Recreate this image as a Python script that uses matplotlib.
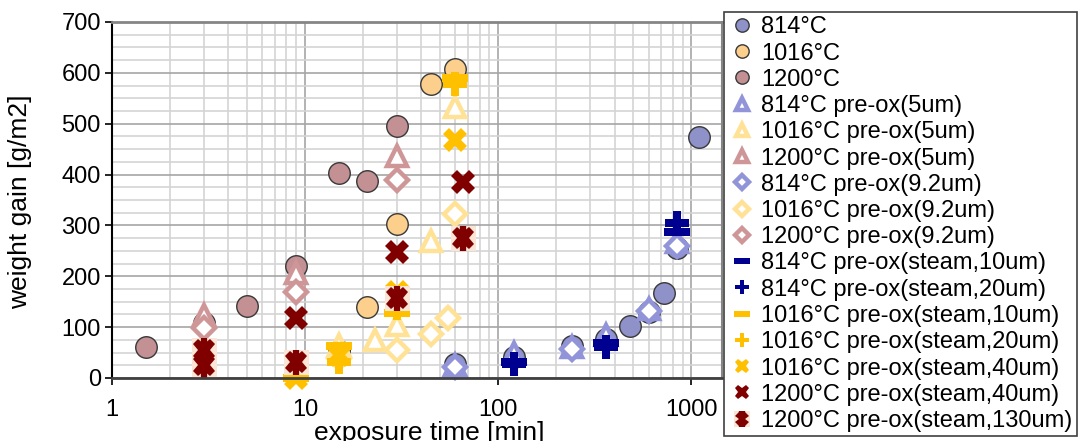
import matplotlib
matplotlib.use("Agg")
import matplotlib.pyplot as plt
from matplotlib.ticker import FixedLocator, NullFormatter, MultipleLocator, LogLocator
from matplotlib.legend_handler import HandlerTuple

plt.rcParams['font.family'] = ['Liberation Sans', 'DejaVu Sans']

# ---------------- data ----------------
t_814 = [60, 120, 240, 360, 480, 600, 720, 840, 1100]
w_814 = [28, 42, 62, 76, 102, 130, 168, 255, 474]

t_1016 = [15, 21, 30, 45, 60]
w_1016 = [53, 139, 303, 579, 608]

t_1200 = [1.5, 3, 5, 9, 15, 21, 30]
w_1200 = [60, 108, 141, 220, 404, 387, 495]

t_814_p5 = [60, 120, 240, 360, 600, 840]
w_814_p5 = [25, 49, 61, 85, 136, 268]

t_1016_p5 = [15, 23, 30, 45, 60]
w_1016_p5 = [65, 75, 104, 270, 533]

t_1200_p5 = [3, 9, 30]
w_1200_p5 = [124, 206, 436]

t_814_p92 = [60, 240, 600, 840]
w_814_p92 = [22, 58, 132, 260]

t_1016_p92 = [15, 30, 45, 55, 60]
w_1016_p92 = [40, 55, 86, 117, 322]

t_1200_p92 = [3, 9, 30]
w_1200_p92 = [98, 170, 389]

t_814_s10 = [120, 360, 840]
w_814_s10 = [32, 69, 288]

t_814_s20 = [120, 360, 840]
w_814_s20 = [28, 60, 304]

t_1016_s10 = [9, 15, 30, 60]
w_1016_s10 = [0, 62, 127, 590]

t_1016_s20 = [15, 30, 60]
w_1016_s20 = [31, 138, 578]

t_1016_s40 = [9, 15, 30, 60]
w_1016_s40 = [0, 45, 169, 467]

t_1200_s40 = [3, 9, 30, 66]
w_1200_s40 = [40, 117, 248, 385]

t_1200_s130 = [3, 3, 9, 30, 66]
w_1200_s130 = [55, 25, 32, 157, 275]

labels = ["814°C", "1016°C", "1200°C",
          "814°C pre-ox(5um)", "1016°C pre-ox(5um)", "1200°C pre-ox(5um)",
          "814°C pre-ox(9.2um)", "1016°C pre-ox(9.2um)", "1200°C pre-ox(9.2um)",
          "814°C pre-ox(steam,10um)", "814°C pre-ox(steam,20um)",
          "1016°C pre-ox(steam,10um)", "1016°C pre-ox(steam,20um)",
          "1016°C pre-ox(steam,40um)", "1200°C pre-ox(steam,40um)",
          "1200°C pre-ox(steam,130um)"]

xticks = [1, 10, 100, 1000]
xticklabels = ["1", "10", "100", "1000"]
yticks = [0, 100, 200, 300, 400, 500, 600, 700]

# ---------------- figure ----------------
W, H = 1086, 441
fig = plt.figure(figsize=(W / 100, H / 100), dpi=100)
ax = fig.add_axes([112 / W, 1 - 378 / H, 610 / W, 356 / H])
ax.set_xscale('log')
ax.set_xlim(1, 1440)
ax.set_ylim(0, 700)

ax.set_axisbelow(True)
ax.xaxis.set_major_locator(FixedLocator(xticks))
ax.set_xticklabels(xticklabels)
ax.xaxis.set_minor_locator(LogLocator(base=10, subs=[2, 3, 4, 5, 6, 7, 8, 9]))
ax.xaxis.set_minor_formatter(NullFormatter())
ax.yaxis.set_major_locator(FixedLocator(yticks))
ax.yaxis.set_minor_locator(MultipleLocator(25))
ax.grid(which='major', color='#a6a6a6', lw=1.2)
ax.grid(which='minor', color='#d4d4d4', lw=1.2)
ax.tick_params(which='minor', length=0)
ax.tick_params(axis='y', which='major', direction='out', length=5, width=1.2,
               labelsize=17, pad=3, colors='black')
ax.tick_params(axis='x', which='major', direction='out', length=5, width=1.2,
               labelsize=17, pad=10, colors='black')

ax.spines['left'].set_color('black'); ax.spines['left'].set_linewidth(1.5)
ax.spines['bottom'].set_color('#404040'); ax.spines['bottom'].set_linewidth(2)
ax.spines['top'].set_color('#858585'); ax.spines['top'].set_linewidth(2)
ax.spines['right'].set_color('#858585'); ax.spines['right'].set_linewidth(1.5)

# ---------------- markers ----------------
a = 0.3
plus_m = [(-a, 1), (a, 1), (a, a), (1, a), (1, -a), (a, -a), (a, -1), (-a, -1),
          (-a, -a), (-1, -a), (-1, a), (-a, a)]
minus_m = [(-1, -0.32), (1, -0.32), (1, 0.32), (-1, 0.32)]

c814 = '#8f92c9'; c1016 = '#fcd08c'; c1200 = '#c39094'
p814 = '#9194d8'; p1016 = '#ffe296'; p1200 = '#cf9698'
navy = '#000090'; gold = '#ffc000'; maroon = '#800000'; peach = '#fbe5d6'

handles = []

def pl(t, w, **kw):
    ln, = ax.plot(t, w, linestyle='none', clip_on=False, **kw)
    return ln

circ = dict(marker='o', ms=15.5, mec='#383838', mew=1.0)
handles.append(pl(t_814, w_814, mfc=c814, **circ))
handles.append(pl(t_1016, w_1016, mfc=c1016, **circ))
handles.append(pl(t_1200, w_1200, mfc=c1200, **circ))

tri = dict(marker='^', ms=15, mew=3.2, mfc='white')
handles.append(pl(t_814_p5, w_814_p5, mec=p814, **tri))
handles.append(pl(t_1016_p5, w_1016_p5, mec=p1016, **tri))
handles.append(pl(t_1200_p5, w_1200_p5, mec=p1200, **tri))

dia = dict(marker='D', ms=11, mew=3.2, mfc='white')
handles.append(pl(t_814_p92, w_814_p92, mec=p814, **dia))
handles.append(pl(t_1016_p92, w_1016_p92, mec=p1016, **dia))
handles.append(pl(t_1200_p92, w_1200_p92, mec=p1200, **dia))

handles.append(pl(t_814_s10, w_814_s10, marker=minus_m, ms=19, color=navy, mew=0))
handles.append(pl(t_814_s20, w_814_s20, marker=plus_m, ms=17, color=navy, mew=0))
handles.append(pl(t_1016_s10, w_1016_s10, marker=minus_m, ms=19, color=gold, mew=0))
handles.append(pl(t_1016_s20, w_1016_s20, marker=plus_m, ms=17, color=gold, mew=0))
handles.append(pl(t_1016_s40, w_1016_s40, marker='X', ms=17, color=gold, mew=0))
handles.append(pl(t_1200_s40, w_1200_s40, marker='X', ms=17, color=maroon, mew=0))

h_sq = pl(t_1200_s130, w_1200_s130, marker='s', ms=18, color=peach, mew=0)
h_x = pl(t_1200_s130, w_1200_s130, marker='X', ms=16, color=maroon, mew=0)
h_v = pl(t_1200_s130, w_1200_s130, marker='|', ms=18, color=maroon, mew=4.5)
handles.append((h_sq, h_x, h_v))

leg = fig.legend(handles, labels, loc='upper left',
                 bbox_to_anchor=(724 / W, 1 - 12 / H), bbox_transform=fig.transFigure,
                 frameon=True, fancybox=False, edgecolor='#404040', framealpha=1,
                 borderaxespad=0, fontsize=17, labelspacing=0.18, handlelength=1.2,
                 handletextpad=0.2, borderpad=0.18, markerscale=0.62,
                 handler_map={tuple: HandlerTuple(ndivide=1, pad=0)})
leg.get_frame().set_linewidth(1.2)

fig.text(429 / W, 1 - 440 / H, "exposure time [min]", fontsize=19,
         ha='center', va='baseline')
fig.text(20 / W, 1 - 202 / H, "weight gain [g/m2]", fontsize=19,
         ha='center', va='center', rotation=90)

fig.savefig("out.png", dpi=100)
